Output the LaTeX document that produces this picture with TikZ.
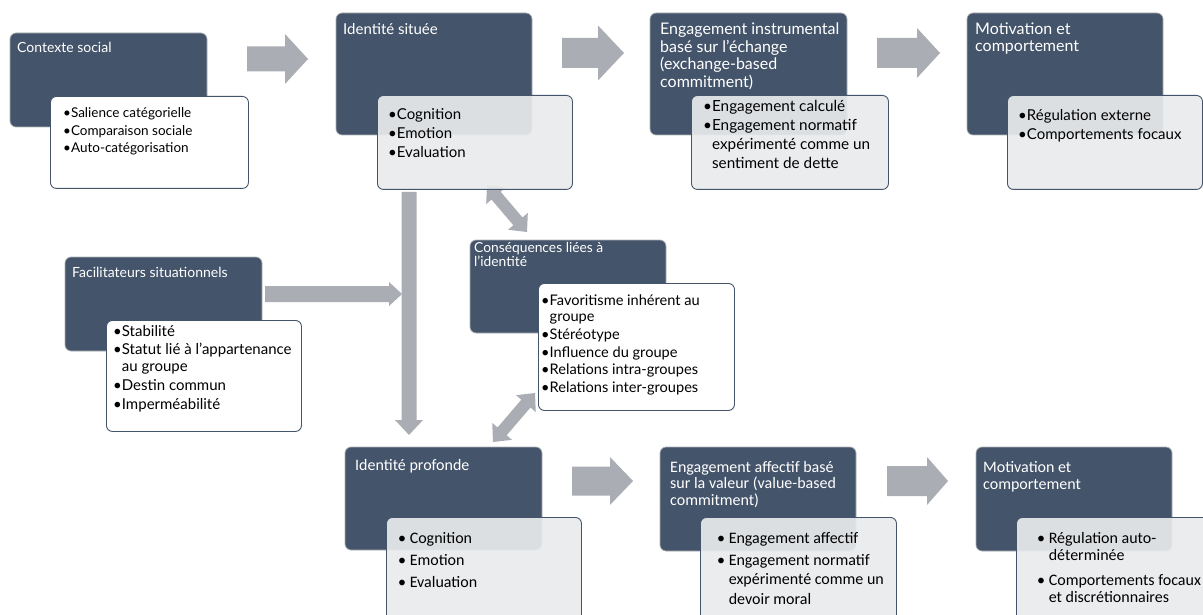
\documentclass[tikz,border=0pt]{standalone}
\usepackage{fontspec}
\setmainfont{Lato}
\newfontfamily\calib{Carlito}
\usetikzlibrary{calc}
\definecolor{darkblue}{RGB}{68,84,106}
\definecolor{darkedge}{RGB}{175,177,181}
\definecolor{lightfill}{RGB}{234,235,237}
\definecolor{arrowfill}{RGB}{170,173,179}
\tikzset{
 darkbox/.style={draw=darkedge, fill=darkblue, rounded corners=6pt, line width=0.7pt, anchor=north west, inner sep=0pt, outer sep=0pt},
 litebox/.style={draw=darkblue, fill=lightfill, fill opacity=0.92, rounded corners=6pt, line width=0.9pt, anchor=north west, inner sep=0pt},
 whitebox/.style={draw=darkblue, fill=white, rounded corners=6pt, line width=0.9pt, anchor=north west, inner sep=0pt},
 ttl/.style={anchor=base west, inner sep=0pt, text=white},
 body/.style={anchor=base west, inner sep=0pt, text=black},
}
\newcommand{\fs}[2]{\fontsize{#1}{#2}\selectfont}
\newcommand{\lns}[1]{\begin{tabular}[t]{@{}l@{}}#1\end{tabular}}
\newcommand{\blockarr}[5]{%
 \fill[arrowfill] ($(#1)!#3pt!90:(#2)$) -- ($(#2)!#5pt!(#1)!#3pt!-90:(#1)$) -- ($(#2)!#5pt!(#1)!#4pt!-90:(#1)$) -- (#2) -- ($(#2)!#5pt!(#1)!#4pt!90:(#1)$) -- ($(#2)!#5pt!(#1)!#3pt!90:(#1)$) -- ($(#1)!#3pt!-90:(#2)$) -- cycle;}
\newcommand{\dblarr}[5]{%
 \fill[arrowfill] (#1) -- ($(#1)!#5pt!(#2)!#4pt!90:(#2)$) -- ($(#1)!#5pt!(#2)!#3pt!90:(#2)$) -- ($(#2)!#5pt!(#1)!#3pt!-90:(#1)$) -- ($(#2)!#5pt!(#1)!#4pt!-90:(#1)$) -- (#2) -- ($(#2)!#5pt!(#1)!#4pt!90:(#1)$) -- ($(#2)!#5pt!(#1)!#3pt!90:(#1)$) -- ($(#1)!#5pt!(#2)!#3pt!-90:(#2)$) -- ($(#1)!#5pt!(#2)!#4pt!-90:(#2)$) -- cycle;}
\begin{document}
\begin{tikzpicture}[x=1pt,y=-1pt]
\clip (0,0) rectangle (1203,615);
\fill[white] (0,0) rectangle (1203,615);
% arrows
\coordinate (a1s) at (247,59); \coordinate (a1e) at (308,59);
\coordinate (a2s) at (562,53); \coordinate (a2e) at (624,53);
\coordinate (a3s) at (877,53); \coordinate (a3e) at (940,53);
\coordinate (a4s) at (265,294); \coordinate (a4e) at (402,294);
\coordinate (a5s) at (409,192); \coordinate (a5e) at (409,435);
\coordinate (a6s) at (572,481); \coordinate (a6e) at (633,481);
\coordinate (a7s) at (887,481); \coordinate (a7e) at (948,481);
\coordinate (d1a) at (487,185); \coordinate (d1b) at (527,232);
\coordinate (d2a) at (535,393); \coordinate (d2b) at (493,442);
\blockarr{a1s}{a1e}{12.5}{25}{23}
\blockarr{a2s}{a2e}{15}{27.5}{26}
\blockarr{a3s}{a3e}{15}{25}{23}
\blockarr{a4s}{a4e}{8}{12}{13}
\blockarr{a5s}{a5e}{7.5}{14}{15}
\blockarr{a6s}{a6e}{14.5}{24}{23}
\blockarr{a7s}{a7e}{15}{24}{21}
\dblarr{d1a}{d1b}{6}{13}{14}
\dblarr{d2a}{d2b}{6}{13}{14}
% Box 1
\node[darkbox, minimum width=197pt, minimum height=94pt] (ctx) at (10,33) {};
\node[ttl, font=\fs{14}{17}] (ctxt) at (17,53) {Contexte social};
\node[whitebox, minimum width=198pt, minimum height=92pt] (ctxb) at (50,96) {};
\node[body, font=\fs{13.5}{17.5}] (ctxl) at (63,118) {\lns{•Salience catégorielle\\ •Comparaison sociale\\ •Auto-catégorisation}};
% Box 2
\node[darkbox, minimum width=196pt, minimum height=122pt] (sit) at (336,13) {};
\node[ttl, font=\fs{15}{17}] (sitt) at (343,35) {Identité située};
\node[litebox, minimum width=195pt, minimum height=94pt] (sitb) at (377,95) {};
\node[body, font=\fs{15}{19}] (sitl) at (388,120) {\lns{•Cognition\\ •Emotion\\ •Evaluation}};
% Box 3
\node[darkbox, minimum width=197pt, minimum height=122pt] (exc) at (650,13) {};
\node[ttl, font=\fs{16}{16.7}] (exct) at (660,35) {\lns{Engagement instrumental\\ basé sur l’échange\\ (exchange-based\\ commitment)}};
\node[litebox, minimum width=197pt, minimum height=94pt] (excb) at (691,95) {};
\node[body, font=\fs{15.3}{18.7}] (excl) at (703,112) {\lns{•Engagement calculé\\ •Engagement normatif\\ \hphantom{•}expérimenté comme un\\ \hphantom{•}sentiment de dette}};
% Box 4
\node[darkbox, minimum width=196pt, minimum height=122pt] (mot1) at (967,13) {};
\node[ttl, font=\fs{16}{17}] (mot1t) at (975,35) {\lns{Motivation et\\ comportement}};
\node[litebox, minimum width=195pt, minimum height=94pt] (mot1b) at (1007,95) {};
\node[body, font=\fs{15}{19}] (mot1l) at (1018,121) {\lns{•Régulation externe\\ •Comportements focaux}};
% Box 5
\node[darkbox, minimum width=197pt, minimum height=94pt] (fac) at (65,257) {};
\node[ttl, font=\fs{14}{17}] (fact) at (72,277) {Facilitateurs situationnels};
\node[whitebox, minimum width=195pt, minimum height=111pt] (facb) at (106,320) {};
\node[body, font=\fs{15}{17}] (facl) at (113,336) {\lns{•Stabilité\\[1.5pt] •Statut lié à l'appartenance\\ \hphantom{•}au groupe\\[2pt] •Destin commun\\[1.5pt] •Imperméabilité}};
% Box 6
\node[darkbox, minimum width=196pt, minimum height=93pt] (csq) at (470,240) {};
\node[ttl, font=\fs{13.8}{14}] (csqt) at (474,252) {\lns{Conséquences liées à\\ l’identité}};
\node[whitebox, minimum width=196pt, minimum height=127pt] (csqb) at (538,283) {};
\node[body, font=\fs{14.6}{16.5}] (csql) at (541,305) {\lns{•Favoritisme inhérent au\\ \hphantom{•}groupe\\[1.5pt] •Stéréotype\\[1.5pt] •Influence du groupe\\[1pt] •Relations intra-groupes\\[1pt] •Relations inter-groupes}};
% Box 7
\node[darkbox, minimum width=197pt, minimum height=103pt] (prof) at (345,447) {};
\node[ttl, font=\calib\fs{16}{17}] (proft) at (355,470) {Identité profonde};
\node[litebox, minimum width=195pt, minimum height=110pt] (profb) at (386,517) {};
\node[body, font=\calib\fs{16}{22}] (profl) at (398,543) {\lns{• Cognition\\ • Emotion\\ • Evaluation}};
% Box 8
\node[darkbox, minimum width=196pt, minimum height=104pt] (val) at (660,447) {};
\node[ttl, font=\calib\fs{16}{16.5}] (valt) at (670,472) {\lns{Engagement affectif basé\\ sur la valeur (value-based\\ commitment)}};
\node[litebox, minimum width=196pt, minimum height=110pt] (valb) at (700,517) {};
\node[body, font=\calib\fs{16}{19.5}] (vall) at (717,543) {\lns{• Engagement affectif\\[2.5pt] • Engagement normatif\\ \hphantom{• }expérimenté comme un\\ \hphantom{• }devoir moral}};
% Box 9
\node[darkbox, minimum width=196pt, minimum height=104pt] (mot2) at (976,447) {};
\node[ttl, font=\calib\fs{16}{17}] (mot2t) at (983,472) {\lns{Motivation et\\ comportement}};
\node[litebox, minimum width=196pt, minimum height=110pt] (mot2b) at (1016,517) {};
\node[body, font=\calib\fs{16}{17.5}] (mot2l) at (1037,543) {\lns{• Régulation auto-\\ \hphantom{• }déterminée\\[7pt] • Comportements focaux\\ \hphantom{• }et discrétionnaires}};
\end{tikzpicture}
\end{document}
